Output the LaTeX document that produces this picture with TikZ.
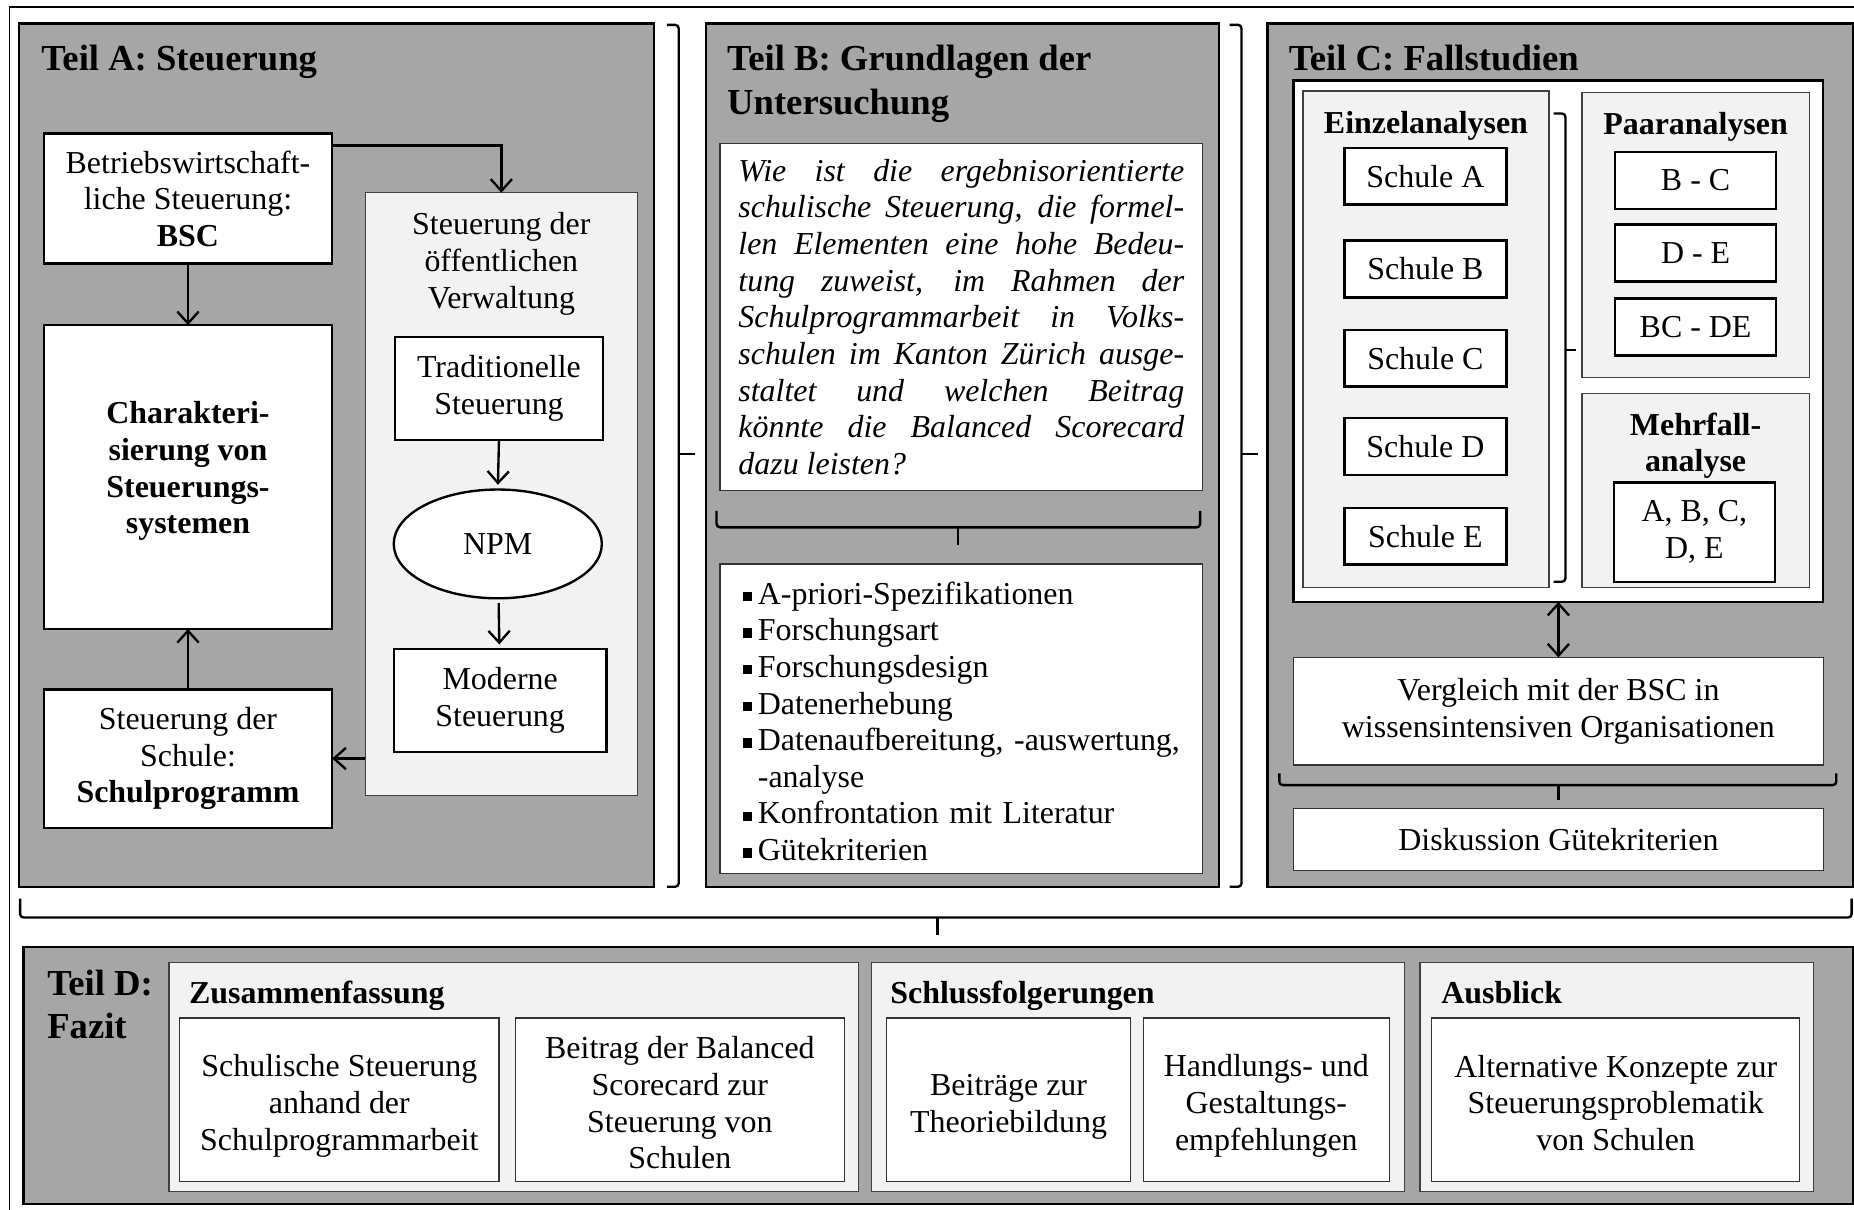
\documentclass[tikz,border=0pt]{standalone}
\usepackage{fontspec}
\setmainfont{Liberation Serif}
\usetikzlibrary{arrows.meta,shapes.geometric}
\definecolor{partgray}{HTML}{A6A6A6}
\definecolor{panelgray}{HTML}{F2F2F2}
\setlength\parindent{0pt}
\newcommand{\listsq}{\rule[2.5pt]{8pt}{8pt}\hspace{5pt}}

\begin{document}
\begin{tikzpicture}[x=1pt, y=-1pt]
\tikzset{ >={Straight Barb[length=10pt, width=18pt]}, inner sep=0pt, outer sep=0pt,
  every node/.style={font=\fontsize{27}{31}\selectfont, align=center},
  part/.style={draw, line width=2pt, fill=partgray},
  panel/.style={draw=black!75, line width=1pt, fill=panelgray},
  whitebox/.style={draw, line width=2pt, fill=white},
  thinbox/.style={draw=black!80, line width=1pt, fill=white},
  parttitle/.style={font=\fontsize{31}{37}\selectfont\bfseries, align=left, anchor=north west},
  paneltitle/.style={font=\fontsize{27}{31}\selectfont\bfseries},
  arr/.style={->, line width=2pt},
  bracket/.style={line width=2pt, rounded corners=3pt},
}

%\draw [lightgray, dashed] (0,0) grid[step=100] (1568,1023);
\useasboundingbox (0,0) rectangle (1568,1023);
\clip (0,0) rectangle (1568,1023);

\draw [line width=1.5pt] (8,1040) -- (8,6) -- (1590,6);

% Teil A
\node [part, minimum width=537, minimum height=730] (TA) at (284.5,385) {};
\node [parttitle] (TAt) at (35,38) {Teil A: Steuerung};

\node [whitebox, minimum width=244, minimum height=110] (BSC) at (159,168) {Betriebswirtschaft-\\liche Steuerung:\\\textbf{BSC}};
\node [whitebox, minimum width=244, minimum height=257, font=\fontsize{27}{31}\selectfont\bfseries] (CH) at (159,403.5) {Charakteri-\\sierung von\\Steuerungs-\\systemen\rule[-16pt]{0pt}{16pt}};
\node [whitebox, minimum width=244, minimum height=117] (SP) at (159,641.5) {Steuerung der\\Schule:\\\textbf{Schulprogramm}};

\node [panel, minimum width=230, minimum height=510] (VW) at (424,418) {};
\node [anchor=north] (VWt) at (424,180) {Steuerung der\\öffentlichen\\Verwaltung};
\node [whitebox, minimum width=176, minimum height=87] (TR) at (422,328.5) {Traditionelle\\Steuerung};
\node [ellipse, draw, line width=2pt, fill=white, minimum width=176, minimum height=92] (NPM) at (421,460) {NPM};
\node [whitebox, minimum width=180, minimum height=87] (MS) at (423,592.5) {Moderne\\Steuerung};

\draw [arr] ([yshift=-10pt]BSC.north east) -| (VW.north);
\draw [arr] (BSC) -- (CH);
\draw [arr] (SP) -- (CH);
\draw [arr] (VW.west |- SP.east) -- (SP.east);
\draw [arr, shorten >=4pt] (TR.south) -- (NPM.north);
\draw [arr, shorten <=4pt, shorten >=4pt] (NPM) -- (MS);

\draw [bracket] (564,21) -- (574,21) -- (574,750) -- (564,750);
\draw [bracket] (574,384) -- (588,384);

% Teil B
\node [part, minimum width=434, minimum height=730] (TB) at (814,385) {};
\node [parttitle] (TBt) at (615,38) {Teil B: Grundlagen der\\Untersuchung};

\node [thinbox, minimum width=408, minimum height=293, text width=377, align=justify, font=\fontsize{27}{31}\selectfont\itshape] (Q) at (813,268) {\tolerance=10000\hyphenpenalty=10000 Wie ist die ergebnisorientierte\linebreak schulische Steuerung, die formel-\linebreak len Elementen eine hohe Bedeu-\linebreak tung zuweist, im Rahmen der\linebreak Schulprogrammarbeit in Volks-\linebreak schulen im Kanton Zürich ausge-\linebreak staltet und welchen Beitrag\linebreak könnte die Balanced Scorecard\linebreak dazu leisten?};

\draw [bracket] (606,432) -- (606,446) -- (1015,446) -- (1015,432);
\draw [bracket] (810,446) -- (810,461);

\node [thinbox, minimum width=408, minimum height=262, text width=370, align=left] (L) at (813,608) {\rule{0pt}{23pt}\listsq A-priori-Spezifikationen\\ \listsq Forschungsart\\ \listsq Forschungsdesign\\ \listsq Datenerhebung\\ \listsq Datenaufbereitung, -auswertung,\\ \hspace*{13pt}-analyse\\ \listsq Konfrontation mit Literatur\\ \listsq Gütekriterien};

\draw [bracket] (1040,21) -- (1050,21) -- (1050,750) -- (1040,750);
\draw [bracket] (1050,384) -- (1064,384);

% Teil C
\node [part, minimum width=495, minimum height=730] (TC) at (1319.5,385) {};
\node [parttitle] (TCt) at (1090,38) {Teil C: Fallstudien};
\node [whitebox, minimum width=448, minimum height=441] (CS) at (1318,288.5) {};

\node [panel, minimum width=208, minimum height=420] (EA) at (1206,287) {};
\node [paneltitle, anchor=north] (EAt) at (1206,94) {Einzelanalysen};
\node [whitebox, minimum width=137, minimum height=48] (SA) at (1205.5,149) {Schule A};
\node [whitebox, minimum width=137, minimum height=48] (SB) at (1205.5,227.5) {Schule B};
\node [whitebox, minimum width=137, minimum height=48] (SC) at (1205.5,303) {Schule C};
\node [whitebox, minimum width=137, minimum height=48] (SD) at (1205.5,377.5) {Schule D};
\node [whitebox, minimum width=137, minimum height=48] (SE) at (1205.5,453.5) {Schule E};

\node [panel, minimum width=192, minimum height=241] (PA) at (1434,198.5) {};
\node [paneltitle, anchor=north] (PAt) at (1434,95) {Paaranalysen};
\node [whitebox, minimum width=136, minimum height=48] (BC) at (1434,152.5) {B - C};
\node [whitebox, minimum width=136, minimum height=48] (DE) at (1434,214) {D - E};
\node [whitebox, minimum width=136, minimum height=48] (BCDE) at (1434,276.5) {BC - DE};

\node [panel, minimum width=192, minimum height=164] (MA) at (1434,415) {};
\node [paneltitle, anchor=north] (MAt) at (1434,349) {Mehrfall-\\analyse};
\node [whitebox, minimum width=136, minimum height=84] (ABC) at (1433,450) {A, B, C,\\D, E};

\draw [bracket] (1314,96) -- (1324,96) -- (1324,492) -- (1314,492);
\draw [bracket] (1324,296) -- (1333,296);

\node [thinbox, minimum width=448, minimum height=91] (VG) at (1318,601.5) {Vergleich mit der BSC in\\wissensintensiven Organisationen};
\draw [<->, line width=2pt] (CS) -- (VG);

\draw [bracket] (1082,654) -- (1082,664) -- (1553,664) -- (1553,654);
\draw [bracket] (1318,664) -- (1318,677);
\node [thinbox, minimum width=448, minimum height=52] (DK) at (1318,710) {Diskussion Gütekriterien};

\draw [bracket] (17,760) -- (17,776) -- (1566,776) -- (1566,760);
\draw [bracket] (793,776) -- (793,791);

% Teil D
\node [part, minimum width=1547, minimum height=217] (TD) at (793.5,909.5) {};
\node [parttitle] (TDt) at (40,820) {Teil D:\\Fazit};

\node [panel, minimum width=583, minimum height=194] (ZF) at (434.5,911) {};
\node [paneltitle, anchor=north west] (ZFt) at (160,830) {Zusammenfassung};
\node [thinbox, minimum width=270, minimum height=138] (Z1) at (287,930) {\rule{0pt}{29pt}Schulische Steuerung\\anhand der\\Schulprogrammarbeit};
\node [thinbox, minimum width=278, minimum height=138] (Z2) at (575,930) {\rule{0pt}{24.5pt}Beitrag der Balanced\\Scorecard zur\\Steuerung von\\Schulen};

\node [panel, minimum width=451, minimum height=194] (SF) at (962.5,911) {};
\node [paneltitle, anchor=north west] (SFt) at (753,830) {Schlussfolgerungen};
\node [thinbox, minimum width=206, minimum height=138] (S1) at (853,930) {\rule{0pt}{30.5pt}Beiträge zur\\Theoriebildung};
\node [thinbox, minimum width=208, minimum height=138] (S2) at (1071,930) {\rule{0pt}{29pt}Handlungs- und\\Gestaltungs-\\empfehlungen};

\node [panel, minimum width=333, minimum height=194] (AB) at (1367.5,911) {};
\node [paneltitle, anchor=north west] (ABt) at (1219,830) {Ausblick};
\node [thinbox, minimum width=311, minimum height=138] (A1) at (1366.5,930) {\rule{0pt}{24.5pt}Alternative Konzepte zur\\Steuerungsproblematik\\von Schulen};

\end{tikzpicture}
\end{document}
